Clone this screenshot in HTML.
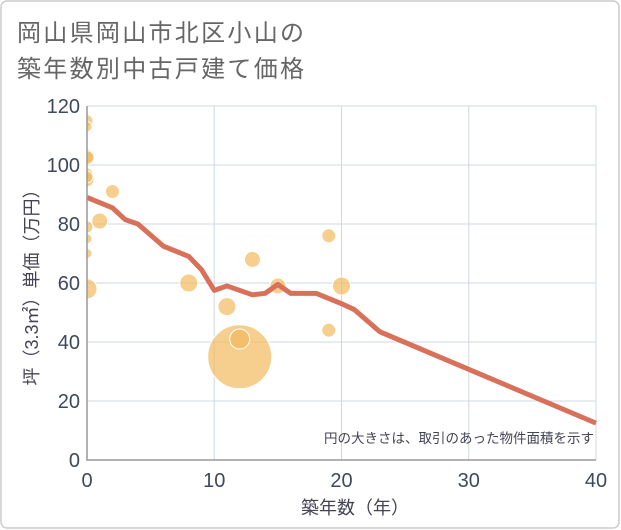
<!DOCTYPE html>
<html><head><meta charset="utf-8">
<style>
html,body{margin:0;padding:0;background:#fff;}
#wrap{position:relative;width:621px;height:530px;overflow:hidden;}
text{font-family:"Liberation Sans","Noto Sans CJK JP",sans-serif;}
</style></head>
<body>
<div id="wrap">
<svg id="chart" width="621" height="530" xmlns="http://www.w3.org/2000/svg">
  <defs><clipPath id="plotclip"><rect x="87" y="100" width="515" height="360"/></clipPath></defs>
  <rect x="1" y="1" width="618" height="527" rx="6" fill="#fff" stroke="#ccc" stroke-width="1.5"/>
  <text x="17" y="41" font-size="24" fill="#666" letter-spacing="2.3">岡山県岡山市北区小山の</text>
  <text x="17" y="77" font-size="24" fill="#666" letter-spacing="2.3">築年数別中古戸建て価格</text>
  <g id="grid"></g>
  <g id="bubbles" clip-path="url(#plotclip)"></g>
  <g id="line"></g>
  <g id="axes"></g>
  <text x="594" y="443" font-size="13.5" fill="#445" text-anchor="end">円の大きさは、取引のあった物件面積を示す</text>
  <text x="355" y="514" font-size="18" fill="#445" text-anchor="middle">築年数（年）</text>
  <text transform="translate(38,283) rotate(-90)" font-size="18" fill="#445" text-anchor="middle">坪（3.3㎡）単価（万円）</text>
</svg>
</div>
<script>
const xTicks = [0, 10, 20, 30, 40];
const yTicks = [0, 20, 40, 60, 80, 100, 120];
const lineAges = [0, 2, 3, 4, 6, 8, 9, 10, 11, 13, 14, 15, 16, 18, 20, 21, 23, 40];
const linePrices = [89, 85.5, 81.5, 80, 72.5, 69, 64.5, 57.5, 59, 56, 56.5, 59.5, 56.5, 56.5, 53, 51, 43.5, 12.5];
const bubbleAges = [0, 0, 0, 0, 0, 0, 0, 2, 1, 0, 0, 0, 0, 8, 11, 12, 12, 13, 15, 19, 19, 20];
const bubblePrices = [115, 113, 103, 102.5, 97, 95, 96, 91, 81, 79, 75, 70, 58, 60, 52, 35, 41, 68, 59, 76, 44, 59];
const bubbleSizes = [6, 5, 7, 7, 6, 7, 6, 7, 8, 6, 5, 5, 10, 9, 9, 32, 10, 8, 8, 7, 7, 9];

const X0 = 87, X1 = 596, Y0 = 460, Y1 = 106;
const xs = v => X0 + (v - 0) / 40 * (X1 - X0);
const ys = v => Y0 - (v - 0) / 120 * (Y0 - Y1);
const NS = "http://www.w3.org/2000/svg";
function mk(tag, attrs, parent) {
  const e = document.createElementNS(NS, tag);
  for (const k in attrs) e.setAttribute(k, attrs[k]);
  parent.appendChild(e);
  return e;
}
const grid = document.getElementById('grid');
const axes = document.getElementById('axes');
xTicks.forEach(t => {
  const l = mk('line', {x1: xs(t), x2: xs(t), y1: Y1, y2: Y0, stroke: '#cfd8e3', 'stroke-width': 1}, grid);
  
  
  const tx = mk('text', {x: xs(t), y: Y0 + 27, 'font-size': 20, fill: '#3d4a5c', 'text-anchor': 'middle'}, axes);
  tx.textContent = t;
  
  
});
yTicks.forEach(t => {
  const l = mk('line', {x1: X0, x2: X1, y1: ys(t), y2: ys(t), stroke: '#cfd8e3', 'stroke-width': 1}, grid);
  
  
  const tx = mk('text', {x: X0 - 7, y: ys(t) + 7, 'font-size': 20, fill: '#3d4a5c', 'text-anchor': 'end'}, axes);
  tx.textContent = t;
  
  
});
const ax = mk('path', {d: `M${X0},${Y1}V${Y0}H${X1}`, fill: 'none', stroke: '#999', 'stroke-width': 1.5}, axes);



const bg = document.getElementById('bubbles');
bubbleAges.forEach((a, i) => {
  const c = mk('circle', {cx: xs(a), cy: ys(bubblePrices[i]), r: bubbleSizes[i], fill: 'rgba(242,185,94,0.7)', stroke: '#fff', 'stroke-width': 1}, bg);
  
  
});
const lg = document.getElementById('line');
const d = lineAges.map((a, i) => (i ? 'L' : 'M') + xs(a) + ',' + ys(linePrices[i])).join('');
const p = mk('path', {d: d, fill: 'none', stroke: '#d9705a', 'stroke-width': 5, 'stroke-linejoin': 'round'}, lg);


</script>
</body></html>
